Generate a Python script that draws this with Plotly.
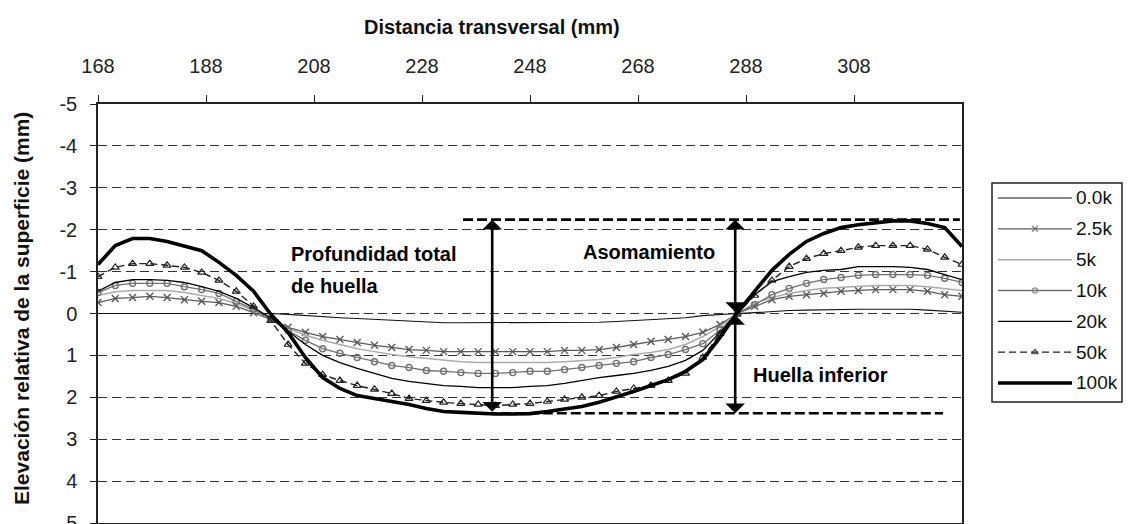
import plotly.graph_objects as go

# Transverse distance of each profile reading (mm)
distance_mm = [168.0, 171.2, 174.4, 177.6, 180.8, 184.0, 187.2, 190.4, 193.6, 196.8,
               200.0, 203.2, 206.4, 209.6, 212.8, 216.0, 219.2, 222.4, 225.6, 228.8,
               232.0, 235.2, 238.4, 241.6, 244.8, 248.0, 251.2, 254.4, 257.6, 260.8,
               264.0, 267.2, 270.4, 273.6, 276.8, 280.0, 283.2, 286.4, 289.6, 292.8,
               296.0, 299.2, 302.4, 305.6, 308.8, 312.0, 315.2, 318.4, 321.6, 324.8,
               328.0]

# Relative surface elevation (mm) after each number of load passes
elev_0k = [0.00, 0.00, 0.00, 0.00, 0.00, 0.00, 0.00, 0.00, 0.00, 0.00,
           0.00, 0.02, 0.05, 0.07, 0.10, 0.12, 0.14, 0.17, 0.19, 0.21,
           0.22, 0.22, 0.22, 0.22, 0.22, 0.22, 0.22, 0.22, 0.22, 0.21,
           0.19, 0.17, 0.14, 0.12, 0.10, 0.05, 0.02, 0.00, -0.02, -0.05,
           -0.07, -0.08, -0.09, -0.10, -0.10, -0.10, -0.10, -0.10, -0.08, -0.06,
           -0.03]
elev_2_5k = [-0.26, -0.36, -0.38, -0.41, -0.38, -0.33, -0.29, -0.26, -0.17, -0.02,
             0.14, 0.33, 0.45, 0.55, 0.62, 0.69, 0.76, 0.81, 0.86, 0.88,
             0.91, 0.91, 0.91, 0.91, 0.91, 0.91, 0.91, 0.88, 0.88, 0.86,
             0.81, 0.74, 0.67, 0.62, 0.55, 0.45, 0.26, 0.00, -0.17, -0.33,
             -0.41, -0.45, -0.48, -0.53, -0.55, -0.57, -0.57, -0.57, -0.53, -0.45,
             -0.41]
elev_5k = [-0.43, -0.52, -0.55, -0.55, -0.55, -0.50, -0.43, -0.36, -0.24, -0.07,
           0.12, 0.36, 0.52, 0.64, 0.74, 0.84, 0.91, 0.98, 1.03, 1.07,
           1.12, 1.15, 1.17, 1.17, 1.17, 1.17, 1.17, 1.15, 1.12, 1.10,
           1.05, 0.98, 0.93, 0.86, 0.74, 0.55, 0.31, 0.00, -0.24, -0.38,
           -0.48, -0.55, -0.60, -0.62, -0.64, -0.67, -0.67, -0.67, -0.64, -0.60,
           -0.55]
elev_10k = [-0.50, -0.67, -0.72, -0.72, -0.72, -0.64, -0.57, -0.48, -0.29, -0.10,
            0.14, 0.41, 0.64, 0.84, 0.95, 1.05, 1.15, 1.24, 1.29, 1.36,
            1.38, 1.41, 1.43, 1.43, 1.41, 1.38, 1.38, 1.34, 1.29, 1.24,
            1.19, 1.15, 1.05, 0.98, 0.86, 0.72, 0.40, 0.00, -0.21, -0.45,
            -0.60, -0.72, -0.81, -0.86, -0.91, -0.93, -0.93, -0.93, -0.91, -0.84,
            -0.74]
elev_20k = [-0.53, -0.74, -0.81, -0.81, -0.79, -0.74, -0.64, -0.53, -0.36, -0.14,
            0.10, 0.43, 0.74, 1.00, 1.17, 1.31, 1.43, 1.55, 1.62, 1.67,
            1.72, 1.74, 1.77, 1.77, 1.77, 1.74, 1.72, 1.67, 1.60, 1.53,
            1.48, 1.43, 1.36, 1.26, 1.12, 0.88, 0.45, 0.00, -0.45, -0.76,
            -0.88, -0.98, -1.03, -1.05, -1.12, -1.12, -1.12, -1.10, -1.05, -0.93,
            -0.81]
elev_50k = [-0.88, -1.10, -1.19, -1.19, -1.15, -1.10, -0.98, -0.79, -0.53, -0.17,
            0.17, 0.74, 1.19, 1.46, 1.60, 1.72, 1.81, 1.91, 2.03, 2.08,
            2.12, 2.15, 2.17, 2.20, 2.17, 2.15, 2.10, 2.05, 2.00, 1.96,
            1.86, 1.79, 1.72, 1.60, 1.43, 1.05, 0.48, 0.00, -0.43, -0.79,
            -1.12, -1.31, -1.43, -1.50, -1.58, -1.62, -1.62, -1.62, -1.53, -1.34,
            -1.17]
elev_100k = [-1.17, -1.62, -1.79, -1.79, -1.72, -1.60, -1.50, -1.22, -0.91, -0.53,
             0.02, 0.45, 1.05, 1.53, 1.79, 1.96, 2.03, 2.08, 2.17, 2.27,
             2.34, 2.36, 2.39, 2.40, 2.40, 2.39, 2.34, 2.29, 2.22, 2.12,
             2.00, 1.86, 1.72, 1.58, 1.38, 1.10, 0.57, -0.02, -0.53, -1.03,
             -1.41, -1.72, -1.91, -2.05, -2.12, -2.17, -2.21, -2.21, -2.15, -2.05,
             -1.60]

series_names = ["0.0k", "2.5k", "5k", "10k", "20k", "50k", "100k"]
series_values = [elev_0k, elev_2_5k, elev_5k, elev_10k, elev_20k, elev_50k, elev_100k]

x_tick_vals = [168, 188, 208, 228, 248, 268, 288, 308]
y_tick_vals = [-5, -4, -3, -2, -1, 0, 1, 2, 3, 4, 5]
y_tick_labels = ["-5", "-4", "-3", "-2", "-1", "0", "1", "2", "3", "4", "5"]

# Measured depths marked on the chart (mm of elevation) and where they are drawn
peak_level = -2.24
trough_level = 2.38
total_depth_x = 241.0
split_x = 286.0

FONT = "Arial, 'Liberation Sans', sans-serif"
W, H = 1131, 524

# line / marker look of each series
styles = {
    "0.0k": dict(line=dict(color="#111111", width=1.1), mode="lines"),
    "2.5k": dict(line=dict(color="#5a5a5a", width=1.3), mode="lines+markers",
                 marker=dict(symbol="x-thin-open", size=7,
                             line=dict(color="#222222", width=1.4))),
    "5k": dict(line=dict(color="#ababab", width=1.5), mode="lines"),
    "10k": dict(line=dict(color="#707070", width=1.3), mode="lines+markers",
                marker=dict(symbol="circle-open", size=6,
                            line=dict(color="#606060", width=1.4))),
    "20k": dict(line=dict(color="#000000", width=1.3), mode="lines"),
    "50k": dict(line=dict(color="#222222", width=1.4, dash="7px,4px"),
                mode="lines+markers",
                marker=dict(symbol="triangle-up-open", size=7,
                            line=dict(color="#444444", width=1.2))),
    "100k": dict(line=dict(color="#000000", width=3.6), mode="lines"),
}

fig = go.Figure()

for name, vals in zip(series_names, series_values):
    st = styles[name]
    kw = dict(x=distance_mm, y=vals, name=name, mode=st["mode"], line=st["line"],
              showlegend=False, xaxis="x", yaxis="y")
    if "marker" in st:
        kw["marker"] = st["marker"]
    fig.add_trace(go.Scatter(**kw))

# legend key: one row per series on a small auxiliary axis pair
for row, name in enumerate(series_names):
    st = styles[name]
    kw = dict(x=[0, 0.5, 1], y=[row, row, row], mode=st["mode"], line=st["line"],
              showlegend=False, hoverinfo="skip", xaxis="x2", yaxis="y2")
    if "marker" in st:
        m = dict(st["marker"])
        m["size"] = [0, m["size"] - 1, 0]
        kw["marker"] = m
    fig.add_trace(go.Scatter(**kw))

px_x = lambda p: p / W
px_y = lambda p: 1 - p / H

annotations = []
for row, name in enumerate(series_names):
    annotations.append(dict(text=name, xref="paper", yref="y2", x=px_x(1074), y=row,
                            xanchor="left", yanchor="middle", showarrow=False,
                            font=dict(family=FONT, size=19, color="#111111")))

# axis titles
annotations.append(dict(text="<b>Distancia transversal (mm)</b>", xref="paper", yref="paper",
                        x=px_x(492), y=px_y(27), xanchor="center", yanchor="middle",
                        showarrow=False, font=dict(family=FONT, size=20, color="#111111")))
annotations.append(dict(text="<b>Elevación relativa de la superficie (mm)</b>",
                        xref="paper", yref="paper", x=px_x(21), y=px_y(309),
                        xanchor="center", yanchor="middle", textangle=-90,
                        showarrow=False, font=dict(family=FONT, size=21, color="#111111")))

# labels of the measured quantities
label_font = dict(family=FONT, size=20, color="#000000")
for txt, xv, yv in [("<b>Profundidad total</b>", 203.4, -1.41),
                    ("<b>de huella</b>", 203.4, -0.65),
                    ("<b>Asomamiento</b>", 257.4, -1.47),
                    ("<b>Huella inferior</b>", 289.0, 1.47)]:
    annotations.append(dict(text=txt, x=xv, y=yv, xref="x", yref="y", xanchor="left",
                            yanchor="middle", showarrow=False, font=label_font))

# double-headed dimension arrows
arrow_style = dict(text="", showarrow=True, xref="x", yref="y", axref="x", ayref="y",
                   arrowside="end+start", arrowhead=1, startarrowhead=1,
                   arrowsize=1.25, startarrowsize=1.25, arrowwidth=2.6,
                   arrowcolor="#000000", standoff=0, startstandoff=0)
for xa, y_head, y_tail in [(total_depth_x, peak_level, trough_level),
                           (split_x, peak_level, 0.0),
                           (split_x, trough_level, 0.0)]:
    annotations.append(dict(arrow_style, x=xa, y=y_head, ax=xa, ay=y_tail))

shapes = [
    # reference levels of the deepest profile
    dict(type="line", xref="x", yref="y", x0=235.6, x1=327.6, y0=peak_level, y1=peak_level,
         line=dict(color="#000000", width=2.6, dash="10px,4px")),
    dict(type="line", xref="x", yref="y", x0=240.0, x1=324.5, y0=trough_level, y1=trough_level,
         line=dict(color="#000000", width=2.6, dash="10px,4px")),
    # legend frame
    dict(type="rect", xref="paper", yref="paper", x0=px_x(992), x1=px_x(1122),
         y0=px_y(402), y1=px_y(183), line=dict(color="#222222", width=1.5),
         fillcolor="rgba(0,0,0,0)"),
]

row_top, row_step = 198, 30.83

fig.update_layout(
    width=W, height=H,
    margin=dict(l=0, r=0, t=0, b=0),
    paper_bgcolor="white", plot_bgcolor="white",
    template="none",
    showlegend=False,
    font=dict(family=FONT, size=20, color="#111111"),
    xaxis=dict(domain=[px_x(98), px_x(962)], range=[168, 328], side="top",
               tickvals=x_tick_vals, ticks="outside", ticklen=7, tickwidth=1.3,
               tickcolor="#222222", showline=True, linecolor="#222222", linewidth=1.5,
               mirror=True, showgrid=False, zeroline=False, ticklabelstandoff=14,
               tickfont=dict(family=FONT, size=20, color="#222222"), automargin=False),
    yaxis=dict(domain=[px_y(523), px_y(104)], range=[5, -5], tickvals=y_tick_vals,
               ticktext=y_tick_labels, ticks="outside", ticklen=6, tickwidth=1.3,
               tickcolor="#222222", showline=True, linecolor="#222222", linewidth=1.5,
               mirror=True, showgrid=True, gridcolor="#333333", gridwidth=1.2,
               griddash="9px,5px", zeroline=False, ticklabelstandoff=9,
               ticklabeloverflow="allow",
               tickfont=dict(family=FONT, size=20, color="#222222"), automargin=False),
    xaxis2=dict(domain=[px_x(998), px_x(1072)], range=[0, 1], anchor="y2",
                visible=False, fixedrange=True),
    yaxis2=dict(domain=[px_y(row_top + row_step * 6.5), px_y(row_top - row_step * 0.5)],
                range=[6.5, -0.5], anchor="x2", visible=False, fixedrange=True),
    annotations=annotations,
    shapes=shapes,
)

fig.write_html("out.html")
